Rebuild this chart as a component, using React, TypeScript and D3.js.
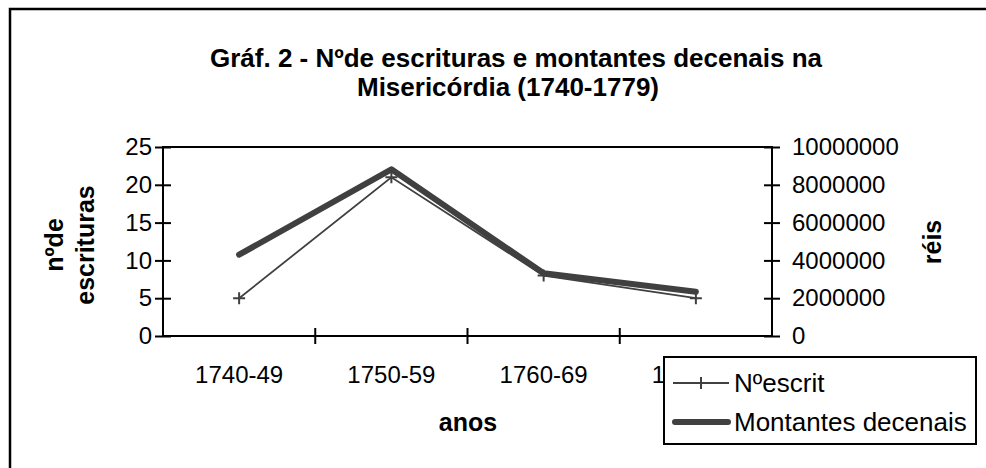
import React from 'react';
import * as d3 from 'd3';

const periods = ['1740-49', '1750-59', '1760-69', '1770-79'];
const nEscrit = [5, 21, 8, 5];
const montantes = [4300000, 8820000, 3320000, 2340000];
const leftTicks = [0, 5, 10, 15, 20, 25];
const rightTicks = [0, 2000000, 4000000, 6000000, 8000000, 10000000];

const W = 986;
const H = 468;
const FONT = '"Liberation Sans", Arial, sans-serif';
const LINE = '#404040';

const App: React.FC = () => {
  const svgRef = React.useRef<SVGSVGElement>(null);

  React.useEffect(() => {
    if (!svgRef.current) return;
    const svg = d3.select(svgRef.current);
    svg.selectAll('*').remove();

    const plot = { left: 163, right: 772, top: 147, bottom: 336 };

    // moldura exterior
    svg.append('rect')
      .attr('x', 10).attr('y', 9)
      .attr('width', 1000).attr('height', 500)
      .attr('fill', 'white')
      .attr('stroke', '#000').attr('stroke-width', 2.5);

    // título
    const title = svg.append('text')
      .attr('text-anchor', 'middle')
      .attr('font-family', FONT)
      .attr('font-weight', 'bold')
      .attr('font-size', 26);
    title.append('tspan').attr('x', 516).attr('y', 67)
      .text('Gráf. 2 - Nºde escrituras e montantes decenais na');
    title.append('tspan').attr('x', 508).attr('y', 96)
      .text('Misericórdia (1740-1779)');

    const x = d3.scaleBand().domain(periods).range([plot.left, plot.right]);
    const yL = d3.scaleLinear().domain([0, 25]).range([plot.bottom, plot.top]);
    const yR = d3.scaleLinear().domain([0, 10000000]).range([plot.bottom, plot.top]);
    const cx = (p: string) => (x(p) || 0) + x.bandwidth() / 2;

    // caixa da área do gráfico
    svg.append('rect')
      .attr('x', plot.left).attr('y', plot.top)
      .attr('width', plot.right - plot.left).attr('height', plot.bottom - plot.top)
      .attr('fill', 'none').attr('stroke', '#000').attr('stroke-width', 2);

    // eixo esquerdo
    const gl = svg.append('g').attr('transform', `translate(${plot.left},0)`)
      .call(d3.axisLeft(yL).tickValues(leftTicks).tickSize(8).tickPadding(3));
    gl.selectAll('line').attr('x2', 8).attr('x1', -8);

    // eixo direito
    const gr = svg.append('g').attr('transform', `translate(${plot.right},0)`)
      .call(d3.axisRight(yR).tickValues(rightTicks).tickSize(8).tickPadding(12)
        .tickFormat(d3.format('d')));
    gr.selectAll('line').attr('x1', -8).attr('x2', 8);

    // eixo x (marcas entre categorias)
    const gx = svg.append('g').attr('transform', `translate(0,${plot.bottom})`)
      .call(d3.axisBottom(x).tickSize(0).tickPadding(30));
    gx.selectAll('.tick line').remove();
    gx.selectAll('.tick-mark')
      .data(periods.slice(1))
      .enter().append('line')
      .attr('x1', d => x(d) || 0).attr('x2', d => x(d) || 0)
      .attr('y1', -8).attr('y2', 8)
      .attr('stroke', '#000').attr('stroke-width', 2);

    [gl, gr, gx].forEach(g => {
      g.selectAll('line').attr('stroke', '#000').attr('stroke-width', 2);
      g.selectAll('text')
        .attr('font-family', FONT).attr('font-size', 24).attr('fill', '#000');
      g.select('.domain').remove();
    });

    // títulos dos eixos
    const yTitle = svg.append('text')
      .attr('transform', 'translate(80,245) rotate(-90)')
      .attr('text-anchor', 'middle')
      .attr('font-family', FONT).attr('font-weight', 'bold').attr('font-size', 25);
    yTitle.append('tspan').attr('x', 0).attr('y', -17).text('nºde');
    yTitle.append('tspan').attr('x', 0).attr('y', 14).text('escrituras');

    svg.append('text')
      .attr('transform', 'translate(941,242) rotate(-90)')
      .attr('text-anchor', 'middle')
      .attr('font-family', FONT).attr('font-weight', 'bold').attr('font-size', 25)
      .text('réis');

    svg.append('text')
      .attr('x', 468).attr('y', 431)
      .attr('text-anchor', 'middle')
      .attr('font-family', FONT).attr('font-weight', 'bold').attr('font-size', 25)
      .text('anos');

    // séries
    const lineL = d3.line<number>().x((_, i) => cx(periods[i])).y(d => yL(d));
    const lineR = d3.line<number>().x((_, i) => cx(periods[i])).y(d => yR(d));

    svg.append('path')
      .datum(nEscrit)
      .attr('d', lineL)
      .attr('fill', 'none').attr('stroke', LINE).attr('stroke-width', 1.8);

    svg.selectAll('.mark')
      .data(nEscrit)
      .enter().append('path')
      .attr('class', 'mark')
      .attr('d', (d, i) => {
        const px = cx(periods[i]);
        const py = yL(d);
        return `M${px},${py - 6}V${py + 6}M${px - 6},${py}H${px + 6}`;
      })
      .attr('stroke', LINE).attr('stroke-width', 2);

    svg.append('path')
      .datum(montantes)
      .attr('d', lineR)
      .attr('fill', 'none').attr('stroke', LINE).attr('stroke-width', 6)
      .attr('stroke-linecap', 'round').attr('stroke-linejoin', 'round');

    // legenda
    const lg = svg.append('g');
    lg.append('rect')
      .attr('x', 664).attr('y', 357).attr('width', 312).attr('height', 87)
      .attr('fill', 'white').attr('stroke', '#000').attr('stroke-width', 2);
    lg.append('line')
      .attr('x1', 673).attr('x2', 729).attr('y1', 383).attr('y2', 383)
      .attr('stroke', LINE).attr('stroke-width', 1.8);
    lg.append('path')
      .attr('d', 'M701,377V389')
      .attr('stroke', LINE).attr('stroke-width', 2);
    lg.append('text')
      .attr('x', 734).attr('y', 392)
      .attr('font-family', FONT).attr('font-size', 26)
      .text('Nºescrit');
    lg.append('line')
      .attr('x1', 675).attr('x2', 728).attr('y1', 422).attr('y2', 422)
      .attr('stroke', LINE).attr('stroke-width', 6).attr('stroke-linecap', 'round');
    lg.append('text')
      .attr('x', 734).attr('y', 431)
      .attr('font-family', FONT).attr('font-size', 26)
      .text('Montantes decenais');
  }, []);

  return (
    <svg
      ref={svgRef}
      width={W}
      height={H}
      style={{ position: 'absolute', left: 0, top: 0, background: 'white' }}
    />
  );
};

export default App;
